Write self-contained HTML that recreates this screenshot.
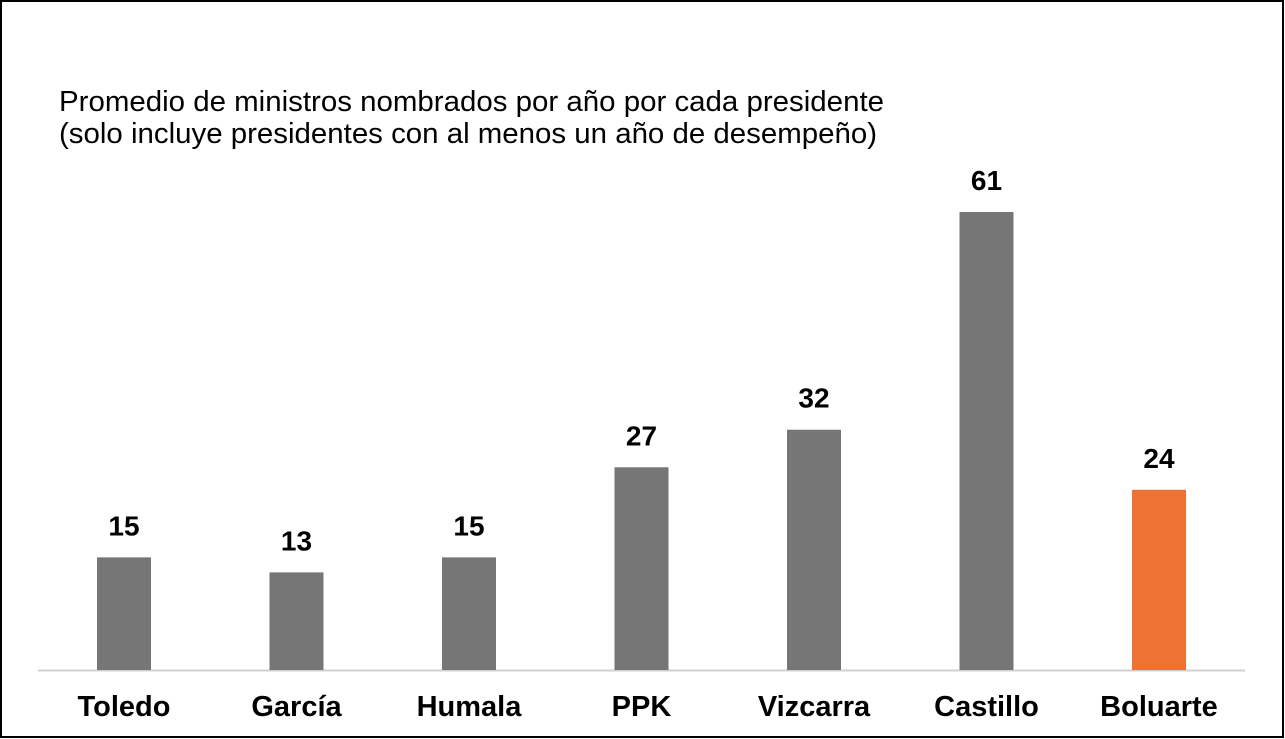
<!DOCTYPE html>
<html><head><meta charset="utf-8"><style>
html,body{margin:0;padding:0;background:#fff;}
svg{display:block;font-family:"Liberation Sans",Arial,sans-serif;}
</style></head><body>
<svg id="c" width="1285" height="739">
<rect x="1" y="1" width="1282" height="736" fill="#fff" stroke="#000" stroke-width="2"/>
<text x="59" y="111" font-size="29" textLength="825" lengthAdjust="spacingAndGlyphs" fill="#000">Promedio de ministros nombrados por año por cada presidente</text>
<text x="59" y="143" font-size="29" textLength="818" lengthAdjust="spacingAndGlyphs" fill="#000">(solo incluye presidentes con al menos un año de desempeño)</text>
<line x1="38" y1="670.5" x2="1245" y2="670.5" stroke="#d0d0d0" stroke-width="2"/>
<g id="bars"></g>
</svg>
<script>
const categories=["Toledo","García","Humala","PPK","Vizcarra","Castillo","Boluarte"];
const values=[15,13,15,27,32,61,24];
const colors=["#767676","#767676","#767676","#767676","#767676","#767676","#ed7233"];
const ns="http://www.w3.org/2000/svg";
const g=document.getElementById('bars');
const x0=124,step=172.5,base=670,scale=458/61,bw=54;
function xs(i){return x0+i*step;}
function ys(v){return base-v*scale;}
categories.forEach((c,i)=>{
 const r=document.createElementNS(ns,'rect');
 r.setAttribute('x',xs(i)-bw/2);r.setAttribute('y',ys(values[i]));
 r.setAttribute('width',bw);r.setAttribute('height',base-ys(values[i]));
 r.setAttribute('fill',colors[i]);
 
 
 g.appendChild(r);
 const t=document.createElementNS(ns,'text');
 t.setAttribute('x',xs(i));t.setAttribute('y',ys(values[i])-22);
 t.setAttribute('text-anchor','middle');t.setAttribute('font-size','28');t.setAttribute('font-weight','bold');
 t.textContent=values[i];
 
 
 g.appendChild(t);
 const l=document.createElementNS(ns,'text');
 l.setAttribute('x',xs(i));l.setAttribute('y',716);
 l.setAttribute('text-anchor','middle');l.setAttribute('font-size','29');l.setAttribute('font-weight','bold');
 l.textContent=c;
 
 
 g.appendChild(l);
});
</script>
</body></html>
